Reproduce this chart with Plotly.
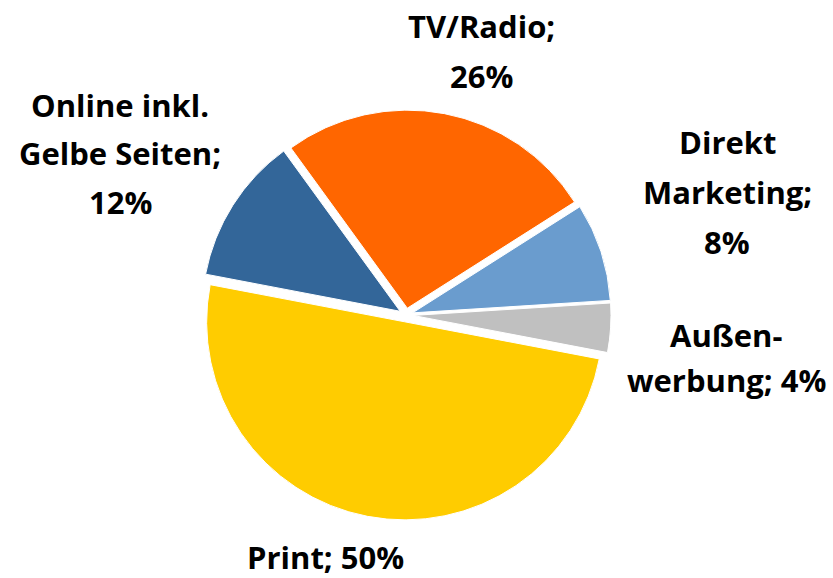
import plotly.graph_objects as go

# Werbeausgaben nach Medium (Anteile in %)
categories = ["TV/Radio", "Direkt Marketing", "Außenwerbung", "Print", "Online inkl. Gelbe Seiten"]
values = [26, 8, 4, 50, 12]
colors = ["#FF6600", "#6A9CCE", "#C0C0C0", "#FFCC00", "#336699"]

# Beschriftungsvorlagen (Zeilenumbrüche mit <br>), Wert wird eingesetzt
label_templates = [
    "TV/Radio;<br>{v}%",
    "Direkt<br>Marketing;<br>{v}%",
    "Außen-<br>werbung; {v}%",
    "Print; {v}%",
    "Online inkl.<br>Gelbe Seiten;<br>{v}%",
]

# Position der ersten Zeile (Pixel: Mitte x, Mitte der Großbuchstaben y) und Zeilenabstand
label_pos = [
    (481, 26.5, 50),
    (727, 142.5, 49.5),
    (726, 334.5, 45),
    (325, 557, 48),
    (120, 104.5, 48.5),
]

W, H = 833, 578
cx, cy, half = 406, 315, 205

fig = go.Figure(
    go.Pie(
        labels=categories,
        values=values,
        sort=False,
        direction="clockwise",
        rotation=-36,
        pull=[0.035] * len(values),
        marker=dict(colors=colors, line=dict(color="white", width=1)),
        textinfo="none",
        hoverinfo="label+percent",
        showlegend=False,
        domain=dict(
            x=[(cx - half) / W, (cx + half) / W],
            y=[(H - cy - half) / H, (H - cy + half) / H],
        ),
    )
)

annotations = []
for tpl, v, (px, py, step) in zip(label_templates, values, label_pos):
    for i, line in enumerate(tpl.format(v=v).split("<br>")):
        annotations.append(
            dict(
                text=line,
                x=px / W,
                y=1 - (py + i * step) / H,
                xref="paper",
                yref="paper",
                xanchor="center",
                yanchor="middle",
                showarrow=False,
                font=dict(family="Open Sans", size=31, color="#000000", weight="bold"),
            )
        )

fig.update_layout(
    width=W,
    height=H,
    margin=dict(l=0, r=0, t=0, b=0),
    paper_bgcolor="white",
    plot_bgcolor="white",
    annotations=annotations,
)

fig.write_html("out.html")
